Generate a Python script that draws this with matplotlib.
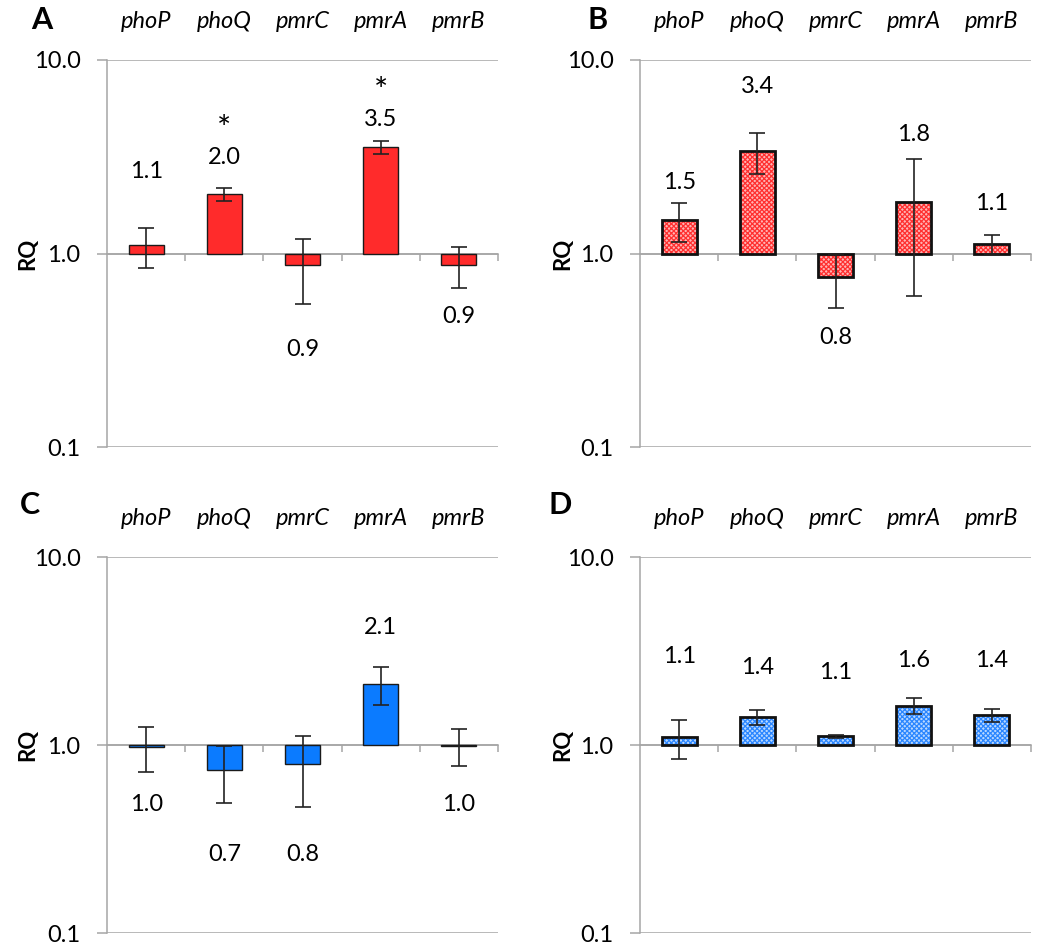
import numpy as np
from matplotlib import pyplot as plt
from matplotlib.ticker import FixedLocator, FuncFormatter, NullLocator

plt.rcParams['font.family'] = ['Lato', 'DejaVu Sans']
plt.rcParams['hatch.linewidth'] = 0.9

genes = ['phoP', 'phoQ', 'pmrC', 'pmrA', 'pmrB']

# RQ values and error bars (SD) for each panel
rq_a = [1.10, 2.03, 0.87, 3.54, 0.87]
err_a = [0.26, 0.16, 0.32, 0.28, 0.21]
rq_b = [1.49, 3.38, 0.76, 1.84, 1.12]
err_b = [0.34, 0.80, 0.24, 1.24, 0.12]
rq_c = [0.98, 0.74, 0.79, 2.12, 0.99]
err_c = [0.26, 0.25, 0.32, 0.49, 0.22]
rq_d = [1.10, 1.41, 1.11, 1.62, 1.44]
err_d = [0.26, 0.13, 0.02, 0.15, 0.11]
stars_a = ['', '*', '', '*', '']

# where the value labels sit (data y)
lab_a = [2.65, 3.13, 0.32, 4.93, 0.47]
star_a = [None, 3.62, None, 5.7, None]  # bottom of the star text
lab_b = [2.34, 7.3, 0.37, 4.12, 1.81]
lab_c = [0.48, 0.26, 0.26, 4.24, 0.48]
lab_d = [2.97, 2.57, 2.44, 2.83, 2.83]

W, H = 1050, 952
fig = plt.figure(figsize=(W / 100, H / 100), dpi=100)

grey = '#a6a6a6'
x = np.arange(len(genes))


def make_ax(left_px, top_px, bottom_px, right_px):
    ax = fig.add_axes([left_px / W, 1 - bottom_px / H,
                       (right_px - left_px) / W, (bottom_px - top_px) / H])
    ax.set_yscale('log')
    ax.set_ylim(0.1, 10)
    ax.set_xlim(-0.5, 4.5)
    ax.yaxis.set_major_locator(FixedLocator([0.1, 1, 10]))
    ax.yaxis.set_minor_locator(NullLocator())
    ax.yaxis.set_major_formatter(FuncFormatter(lambda v, p: f'{v:.1f}'))
    ax.tick_params(axis='y', direction='out', length=7, width=1.1, color=grey,
                   pad=12, labelsize=17)
    ax.grid(axis='y', color=grey, lw=1.1)
    ax.set_axisbelow(True)
    for s in ['top', 'right']:
        ax.spines[s].set_visible(False)
    ax.spines['left'].set_color(grey)
    ax.spines['left'].set_linewidth(1.1)
    ax.spines['bottom'].set_position(('data', 1))
    ax.spines['bottom'].set_color(grey)
    ax.spines['bottom'].set_linewidth(1.1)
    ax.set_xticks(x + 0.5)
    ax.set_xticklabels([])
    ax.tick_params(axis='x', direction='out', length=5, width=1.1, color=grey)
    for i, g in enumerate(genes):
        ax.annotate(g, xy=(i, 1), xycoords=('data', 'axes fraction'),
                    xytext=(0, 28), textcoords='offset points',
                    ha='center', va='center', fontsize=17, style='italic')
    return ax


def draw(ax, vals, errs, labs, color, light=None):
    vals = np.array(vals)
    if light is None:
        ax.bar(x, vals - 1, bottom=1, width=0.45, color=color,
               edgecolor='#1a1a1a', lw=1.0, zorder=3)
    else:
        # checkered fill: pale base + dense red/blue cross hatch
        ax.bar(x, vals - 1, bottom=1, width=0.45, color=light,
               edgecolor=color, hatch='xxxxxxx', lw=0, zorder=3)
        ax.bar(x, vals - 1, bottom=1, width=0.45, fill=False,
               edgecolor='#111111', lw=2.0, zorder=3)
    ax.errorbar(x, vals, yerr=errs, fmt='none', ecolor='#222222',
                elinewidth=1.2, capsize=6, capthick=1.2, zorder=4)
    for i, v in enumerate(vals):
        ax.text(i, labs[i], f'{v:.1f}', ha='center', va='center', fontsize=17)


ax_a = make_ax(107, 60, 447, 498)
draw(ax_a, rq_a, err_a, lab_a, '#ff2b2b')
for i, s in enumerate(stars_a):
    if s:
        ax_a.text(i, star_a[i], s, ha='center', va='bottom', fontsize=24)

ax_b = make_ax(640, 60, 447, 1031)
draw(ax_b, rq_b, err_b, lab_b, '#ff3030', light='#ffb4b4')

ax_c = make_ax(107, 557, 933, 498)
draw(ax_c, rq_c, err_c, lab_c, '#0b7bff')

ax_d = make_ax(640, 557, 933, 1031)
draw(ax_d, rq_d, err_d, lab_d, '#2a86ff', light='#b9d8ff')

# panel letters and axis titles
for lbl, px, py in [('A', 42, 20), ('B', 598, 20), ('C', 30, 505), ('D', 560, 505)]:
    fig.text(px / W, 1 - py / H, lbl, fontsize=22, fontweight='bold',
             ha='center', va='center')
for px, py in [(28, 254), (563, 254), (28, 745), (563, 745)]:
    fig.text(px / W, 1 - py / H, 'RQ', fontsize=16, fontweight='bold',
             rotation=90, ha='center', va='center')

fig.savefig('out.png', dpi=100)
